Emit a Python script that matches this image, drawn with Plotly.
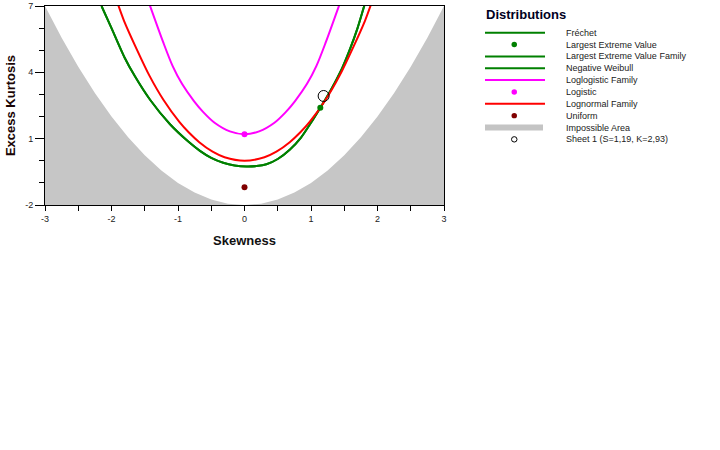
import plotly.graph_objects as go

# (skewness, excess kurtosis)
impossible_x = [-3, -2.75, -2.5, -2.25, -2, -1.75, -1.5, -1.25, -1, -0.75, -0.5, -0.25, 0,
                0.25, 0.5, 0.75, 1, 1.25, 1.5, 1.75, 2, 2.25, 2.5, 2.75, 3]
impossible_y = [7, 5.56, 4.25, 3.06, 2, 1.06, 0.25, -0.44, -1, -1.44, -1.75, -1.94, -2,
                -1.94, -1.75, -1.44, -1, -0.44, 0.25, 1.06, 2, 3.06, 4.25, 5.56, 7]

lognormal_x = [-1.91, -1.81, -1.62, -1.43, -1.22, -0.98, -0.84, -0.68, -0.48, -0.30, 0,
               0.30, 0.48, 0.68, 0.84, 0.98, 1.22, 1.43, 1.62, 1.81, 1.91]
lognormal_y = [7.14, 6.32, 5.04, 3.85, 2.76, 1.76, 1.29, 0.84, 0.41, 0.16, 0,
               0.16, 0.41, 0.84, 1.29, 1.76, 2.76, 3.85, 5.04, 6.32, 7.14]

loglogistic_x = [-1.46, -1.22, -1.08, -0.94, -0.76, -0.62, -0.45, -0.22, 0,
                 0.22, 0.45, 0.62, 0.76, 0.94, 1.08, 1.22, 1.46]
loglogistic_y = [7.34, 5.34, 4.28, 3.48, 2.70, 2.20, 1.72, 1.33, 1.2,
                 1.33, 1.72, 2.20, 2.70, 3.48, 4.28, 5.34, 7.34]

# negative weibull runs up to the gumbel point, frechet goes on from there
weibull_x = [-2.15, -2.0, -1.80, -1.65, -1.42, -1.12, -0.85, -0.67, -0.50, -0.32, -0.15,
             0.03, 0.18, 0.33, 0.50, 0.68, 0.85, 1.0, 1.14]
weibull_y = [7.0, 6.0, 4.65, 3.83, 2.76, 1.65, 0.88, 0.45, 0.13, -0.09, -0.21,
             -0.26, -0.24, -0.16, 0.08, 0.50, 1.05, 1.72, 2.40]
frechet_x = [1.14, 1.26, 1.38, 1.47, 1.58, 1.70, 1.80, 1.85]
frechet_y = [2.40, 3.0, 3.66, 4.2, 5.0, 6.0, 7.0, 7.5]

points = {
    "Largest Extreme Value": (1.14, 2.40),
    "Logistic": (0, 1.2),
    "Uniform": (0, -1.2),
    "Sheet 1 (S=1,19, K=2,93)": (1.19, 2.93),
}

legend_names = ["Fréchet", "Largest Extreme Value", "Largest Extreme Value Family",
                "Negative Weibull", "Loglogistic Family", "Logistic", "Lognormal Family",
                "Uniform", "Impossible Area", "Sheet 1 (S=1,19, K=2,93)"]

x_ticks = [-3, -2, -1, 0, 1, 2, 3]
x_labels = ["-3", "-2", "-1", "0", "1", "2", "3"]
y_ticks = [-2, 1, 4, 7]
y_labels = ["-2", "1", "4", "7"]

GREEN = "#008000"
MAGENTA = "#ff00ff"
RED = "#ff0000"
MAROON = "#800000"
FONT = "Arial, Liberation Sans, sans-serif"

fig = go.Figure()

# impossible area: below K = S^2 - 2
fig.add_trace(go.Scatter(x=[-3, 3], y=[-2, -2], mode="lines", line=dict(width=0),
                         hoverinfo="skip", showlegend=False))
fig.add_trace(go.Scatter(x=impossible_x, y=impossible_y, mode="lines", line=dict(width=0),
                         fill="tonexty", fillcolor="#c6c6c6",
                         name="Impossible Area", showlegend=False))

curve = dict(width=2, shape="spline", smoothing=0.8)
fig.add_trace(go.Scatter(x=weibull_x + frechet_x[1:], y=weibull_y + frechet_y[1:], mode="lines",
                         line=dict(color=GREEN, **curve),
                         name="Largest Extreme Value Family", showlegend=False))
fig.add_trace(go.Scatter(x=weibull_x, y=weibull_y, mode="lines",
                         line=dict(color=GREEN, **curve),
                         name="Negative Weibull", showlegend=False))
fig.add_trace(go.Scatter(x=frechet_x, y=frechet_y, mode="lines",
                         line=dict(color=GREEN, **curve),
                         name="Fréchet", showlegend=False))
fig.add_trace(go.Scatter(x=loglogistic_x, y=loglogistic_y, mode="lines",
                         line=dict(color=MAGENTA, **curve),
                         name="Loglogistic Family", showlegend=False))
fig.add_trace(go.Scatter(x=lognormal_x, y=lognormal_y, mode="lines",
                         line=dict(color=RED, **curve),
                         name="Lognormal Family", showlegend=False))

marker_style = {
    "Largest Extreme Value": dict(color=GREEN, size=6, symbol="circle"),
    "Logistic": dict(color=MAGENTA, size=6, symbol="circle"),
    "Uniform": dict(color=MAROON, size=6, symbol="circle"),
    "Sheet 1 (S=1,19, K=2,93)": dict(color="black", size=11, symbol="circle-open",
                                     line=dict(width=1)),
}
for name, (sx, kx) in points.items():
    fig.add_trace(go.Scatter(x=[sx], y=[kx], mode="markers", marker=marker_style[name],
                             name=name, showlegend=False))

# hand made legend, laid out in pixels like the original
W, H = 720, 450
L, R, T, B = 45, 276, 6, 245
pw, ph = W - L - R, H - T - B


def px(x):
    return (x - L) / pw


def py(y):
    return 1 - (y - T) / ph


glyphs = {
    "Fréchet": ("line", GREEN),
    "Largest Extreme Value": ("dot", GREEN),
    "Largest Extreme Value Family": ("line", GREEN),
    "Negative Weibull": ("line", GREEN),
    "Loglogistic Family": ("line", MAGENTA),
    "Logistic": ("dot", MAGENTA),
    "Lognormal Family": ("line", RED),
    "Uniform": ("dot", MAROON),
    "Impossible Area": ("box", "#c4c4c4"),
    "Sheet 1 (S=1,19, K=2,93)": ("ring", "black"),
}

shapes = []
annotations = [dict(text="<b>Distributions</b>", x=px(484), y=py(15), xref="paper", yref="paper",
                    xanchor="left", yanchor="middle", showarrow=False,
                    font=dict(family=FONT, size=13, color="#000022"))]
for i, name in enumerate(legend_names):
    yy = 32.7 + i * 11.85
    kind, col = glyphs[name]
    if kind == "line":
        shapes.append(dict(type="line", xref="paper", yref="paper", x0=px(485), x1=px(545),
                           y0=py(yy), y1=py(yy), line=dict(color=col, width=2)))
    elif kind == "box":
        shapes.append(dict(type="rect", xref="paper", yref="paper", x0=px(485), x1=px(543),
                           y0=py(yy - 3), y1=py(yy + 3), fillcolor=col, line=dict(width=0)))
    elif kind == "dot":
        shapes.append(dict(type="circle", xref="paper", yref="paper", x0=px(511.5), x1=px(517),
                           y0=py(yy - 2.7), y1=py(yy + 2.7), fillcolor=col, line=dict(width=0)))
    else:
        shapes.append(dict(type="circle", xref="paper", yref="paper", x0=px(511.5), x1=px(517),
                           y0=py(yy - 2.7), y1=py(yy + 2.7), fillcolor="white",
                           line=dict(color=col, width=1)))
    annotations.append(dict(text=name, x=px(564), y=py(yy), xref="paper", yref="paper",
                            xanchor="left", yanchor="middle", showarrow=False,
                            font=dict(family=FONT, size=9, color="#222222")))

fig.update_layout(
    width=W, height=H,
    margin=dict(l=L, r=R, t=T, b=B, autoexpand=False),
    paper_bgcolor="white", plot_bgcolor="white",
    font=dict(family=FONT, size=9, color="black"),
    shapes=shapes, annotations=annotations,
    showlegend=False,
)
fig.update_xaxes(range=[-3, 3], tickvals=x_ticks, ticktext=x_labels, ticks="outside", ticklen=5,
                 tickcolor="black", automargin=False,
                 minor=dict(dtick=0.5, ticks="outside", ticklen=5, tickcolor="black"),
                 showgrid=False, zeroline=False, showline=True, linecolor="black", linewidth=1,
                 mirror=True, tickfont=dict(size=9, color="#222222"),
                 title=dict(text="<b>Skewness</b>", font=dict(size=13, color="#111111"), standoff=13))
fig.update_yaxes(range=[-2, 7], tickvals=y_ticks, ticktext=y_labels, ticks="outside", ticklen=9,
                 tickcolor="black", automargin=False,
                 minor=dict(dtick=1, ticks="outside", ticklen=5, tickcolor="black"),
                 showgrid=False, zeroline=False, showline=True, linecolor="black", linewidth=1,
                 mirror=True, tickfont=dict(size=9, color="#222222"),
                 title=dict(text="<b>Excess Kurtosis</b>", font=dict(size=13, color="#1a0505"),
                            standoff=6))

# drop the browser's default 8px body margin so the figure sits in the window corner
fig.write_html("out.html", config={"displayModeBar": False},
               post_script="document.body.style.margin = '0';")
